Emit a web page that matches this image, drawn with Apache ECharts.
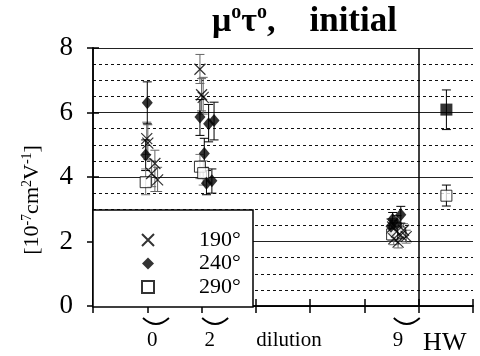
<!DOCTYPE html>
<html><head><meta charset="utf-8">
<script src="https://cdn.jsdelivr.net/npm/echarts@6/dist/echarts.min.js"></script>
<style>html,body{margin:0;padding:0;background:#fff}#c{width:480px;height:356px}</style>
</head><body><div id="c"></div>
<script>
// axis definitions
const xMin = 0, xMax = 7, xStep = 1;
const yMin = 0, yMax = 8, yStep = 2;
const dividerX = 6;
const xLabelPos = [1.09, 2.15, 3.61, 5.62, 6.48];
const xLabelText = ['0', '2', 'dilution', '9', 'HW'];
const arcPos = [1.16, 2.25, 5.78];
const legendNames = ['190°', '240°', '290°'];
const yName = '{a|[10}{s|-7}{a|cm}{s|2}{a|V}{s|-1}{a|]}';

// [x, value, lower, upper]
const s190 = [
  [0.99, 5.19, 4.7, 5.7], [1.01, 5.05, 4.55, 5.62], [1.14, 4.42, 3.55, 4.83],
  [1.08, 4.11, 3.7, 4.5], [1.19, 3.91, 3.55, 4.3],
  [1.97, 7.34, 6.9, 7.8], [2.03, 6.47, 5.95, 7.09], [2.0, 6.55, 6.05, 7.05],
  [5.52, 2.45, 2.25, 2.65], [5.59, 2.3, 2.1, 2.5], [5.67, 2.2, 2.0, 2.4],
  [5.54, 2.08, 1.9, 2.28], [5.62, 1.98, 1.8, 2.15], [5.72, 2.35, 2.15, 2.55],
  [5.77, 2.15, 1.95, 2.35]
];
const s240 = [
  [1.0, 6.3, 5.65, 6.95], [0.97, 4.68, 4.2, 5.15],
  [1.97, 5.86, 5.29, 6.4], [2.13, 5.65, 5.09, 6.25], [2.23, 5.75, 5.15, 6.32],
  [2.05, 4.73, 4.3, 5.2], [2.09, 3.81, 3.45, 4.2], [2.19, 3.88, 3.5, 4.25],
  [5.52, 2.68, 2.45, 2.9], [5.67, 2.83, 2.57, 3.09], [5.49, 2.47, 2.25, 2.7],
  [5.6, 2.55, 2.3, 2.8]
];
const s290 = [
  [0.97, 3.84, 3.45, 4.25],
  [1.97, 4.32, 3.95, 4.7], [2.03, 4.12, 3.75, 4.5],
  [5.57, 2.4, 2.2, 2.6], [5.65, 2.28, 2.08, 2.5], [5.51, 2.22, 2.02, 2.42]
];
const hwFilled = [[6.51, 6.09, 5.47, 6.7]];
const hwOpen = [[6.51, 3.42, 3.1, 3.75]];

const SERIF = 'Liberation Serif';
const crossPath = 'path://M0,0L10,10M10,0L0,10';

function errSeries(data, color) {
  return {
    type: 'custom', data: data, z: 3, silent: true,
    renderItem: function (params, api) {
      const x = api.value(0), lo = api.value(2), hi = api.value(3);
      const p1 = api.coord([x, hi]), p2 = api.coord([x, lo]);
      const w = 4.5;
      const st = { stroke: color, lineWidth: 1 };
      return { type: 'group', children: [
        { type: 'line', shape: { x1: p1[0], y1: p1[1], x2: p2[0], y2: p2[1] }, style: st },
        { type: 'line', shape: { x1: p1[0] - w, y1: p1[1], x2: p1[0] + w, y2: p1[1] }, style: st },
        { type: 'line', shape: { x1: p2[0] - w, y1: p2[1], x2: p2[0] + w, y2: p2[1] }, style: st }
      ]};
    }
  };
}

const chart = echarts.init(document.getElementById('c'), null, { renderer: 'canvas' });
const axisLine = { show: true, lineStyle: { color: '#000', width: 1.5 } };
const option = {
  animation: false,
  backgroundColor: '#fff',
  title: {
    text: '{n|μ}{s|o}{n|τ}{s|o}{n|,    }{b|initial}',
    left: 207, top: 1, padding: [2, 5, 2, 5],
    textStyle: {
      rich: {
        n: { fontFamily: SERIF, fontSize: 34, color: '#000', lineHeight: 38 },
        s: { fontFamily: SERIF, fontSize: 20, fontWeight: 'bold', color: '#000', verticalAlign: 'top', lineHeight: 21 },
        b: { fontFamily: SERIF, fontSize: 35, fontWeight: 'bold', color: '#000', lineHeight: 38 }
      }
    }
  },
  grid: { left: 93, right: 7, top: 48, bottom: 49, show: false },
  legend: {
    data: legendNames, orient: 'vertical', left: 141, top: 229, z: 20, padding: 0,
    itemWidth: 12, itemHeight: 12, itemGap: 1.5,
    formatter: function (n) { return '{t|' + n + '}'; },
    textStyle: {
      padding: [0, 0, 0, 40],
      rich: { t: { fontFamily: SERIF, fontSize: 22, color: '#000', lineHeight: 21 } }
    }
  },
  xAxis: [
    {
      type: 'value', min: xMin, max: xMax, interval: xStep, position: 'bottom',
      axisLine: axisLine,
      axisTick: { show: true, inside: true, length: 7, lineStyle: { color: '#000', width: 1.5 } },
      splitLine: { show: false },
      axisLabel: {
        show: true, customValues: xLabelPos, margin: 24,
        formatter: function (v) {
          let k = 0, d = 1e9;
          xLabelPos.forEach(function (p, i) { if (Math.abs(p - v) < d) { d = Math.abs(p - v); k = i; } });
          const t = xLabelText[k];
          return t === 'HW' ? '{h|' + t + '}' : '{t|' + t + '}';
        },
        rich: {
          t: { fontFamily: SERIF, fontSize: 21, color: '#000' },
          h: { fontFamily: SERIF, fontSize: 26, color: '#000' }
        }
      }
    },
    {
      type: 'value', min: xMin, max: xMax, interval: xStep, position: 'top',
      axisLine: axisLine,
      axisTick: { show: true, inside: true, length: 7, lineStyle: { color: '#000', width: 1.5 } },
      splitLine: { show: false }, axisLabel: { show: false }
    }
  ],
  yAxis: [
    {
      type: 'value', min: yMin, max: yMax, interval: yStep, position: 'left',
      axisLine: axisLine,
      axisTick: { show: true, inside: true, length: 6, lineStyle: { color: '#000', width: 1.5 } },
      axisLabel: {
        margin: 20,
        formatter: function (v) { return '{t|' + v + '}'; },
        rich: { t: { fontFamily: SERIF, fontSize: 27, color: '#000' } }
      },
      splitLine: { show: true, lineStyle: { color: '#222', width: 1 } },
      minorTick: { show: false, splitNumber: 4 },
      minorSplitLine: { show: true, lineStyle: { color: '#111', width: 1, type: [3, 3] } }
    },
    {
      type: 'value', min: yMin, max: yMax, interval: yStep, position: 'right',
      axisLine: axisLine,
      axisTick: { show: true, inside: true, length: 6, lineStyle: { color: '#000', width: 1.5 } },
      axisLabel: { show: false }, splitLine: { show: false }
    }
  ],
  graphic: [
    { id: 'legendBox', type: 'rect', z: 10, shape: { x: 93, y: 210, width: 160, height: 97 },
      style: { fill: '#fff', stroke: '#000', lineWidth: 1.5 } },
    { id: 'yName', type: 'text', z: 10, x: 32, y: 200, rotation: Math.PI / 2,
      style: {
        text: yName, align: 'center', verticalAlign: 'middle',
        rich: {
          a: { fontFamily: SERIF, fontSize: 22, fill: '#000', lineHeight: 24 },
          s: { fontFamily: SERIF, fontSize: 14, fill: '#000', verticalAlign: 'top', lineHeight: 14 }
        }
      } }
  ],
  series: [
    errSeries(s190, '#666'),
    errSeries(s240, '#000'),
    errSeries(s290, '#777'),
    errSeries(hwFilled, '#000'),
    errSeries(hwOpen, '#000'),
    {
      name: '190°', type: 'scatter', data: s190.map(d => [d[0], d[1]]), z: 5,
      symbol: crossPath, symbolSize: 11,
      itemStyle: { color: 'rgba(0,0,0,0)', borderColor: '#000', borderWidth: 1.2 },
      markLine: {
        silent: true, symbol: 'none', label: { show: false },
        lineStyle: { color: '#000', type: 'solid', width: 1.5 },
        data: [{ xAxis: dividerX }]
      }
    },
    {
      name: '240°', type: 'scatter', data: s240.map(d => [d[0], d[1]]), z: 5,
      symbol: 'diamond', symbolSize: [11, 13], itemStyle: { color: '#000' }
    },
    {
      name: '290°', type: 'scatter', data: s290.map(d => [d[0], d[1]]), z: 4,
      symbol: 'rect', symbolSize: 11,
      itemStyle: { color: '#fff', borderColor: '#000', borderWidth: 1 }
    },
    {
      name: 'HW filled', type: 'scatter', data: hwFilled.map(d => [d[0], d[1]]), z: 5,
      symbol: 'rect', symbolSize: 12, itemStyle: { color: '#000' }
    },
    {
      name: 'HW open', type: 'scatter', data: hwOpen.map(d => [d[0], d[1]]), z: 5,
      symbol: 'rect', symbolSize: 11, itemStyle: { color: '#fff', borderColor: '#000', borderWidth: 1 }
    }
  ]
};
chart.setOption(option);

// smile-shaped group marks under the axis
const arcs = arcPos.map(function (v, i) {
  const px = chart.convertToPixel({ xAxisIndex: 0 }, v);
  return { id: 'arc' + i, type: 'bezierCurve', z: 10,
    shape: { x1: px - 13, y1: 318, x2: px + 13, y2: 318, cpx1: px, cpy1: 330 },
    style: { stroke: '#000', fill: null, lineWidth: 1.8 } };
});
chart.setOption({ graphic: arcs });
</script>
</body></html>
